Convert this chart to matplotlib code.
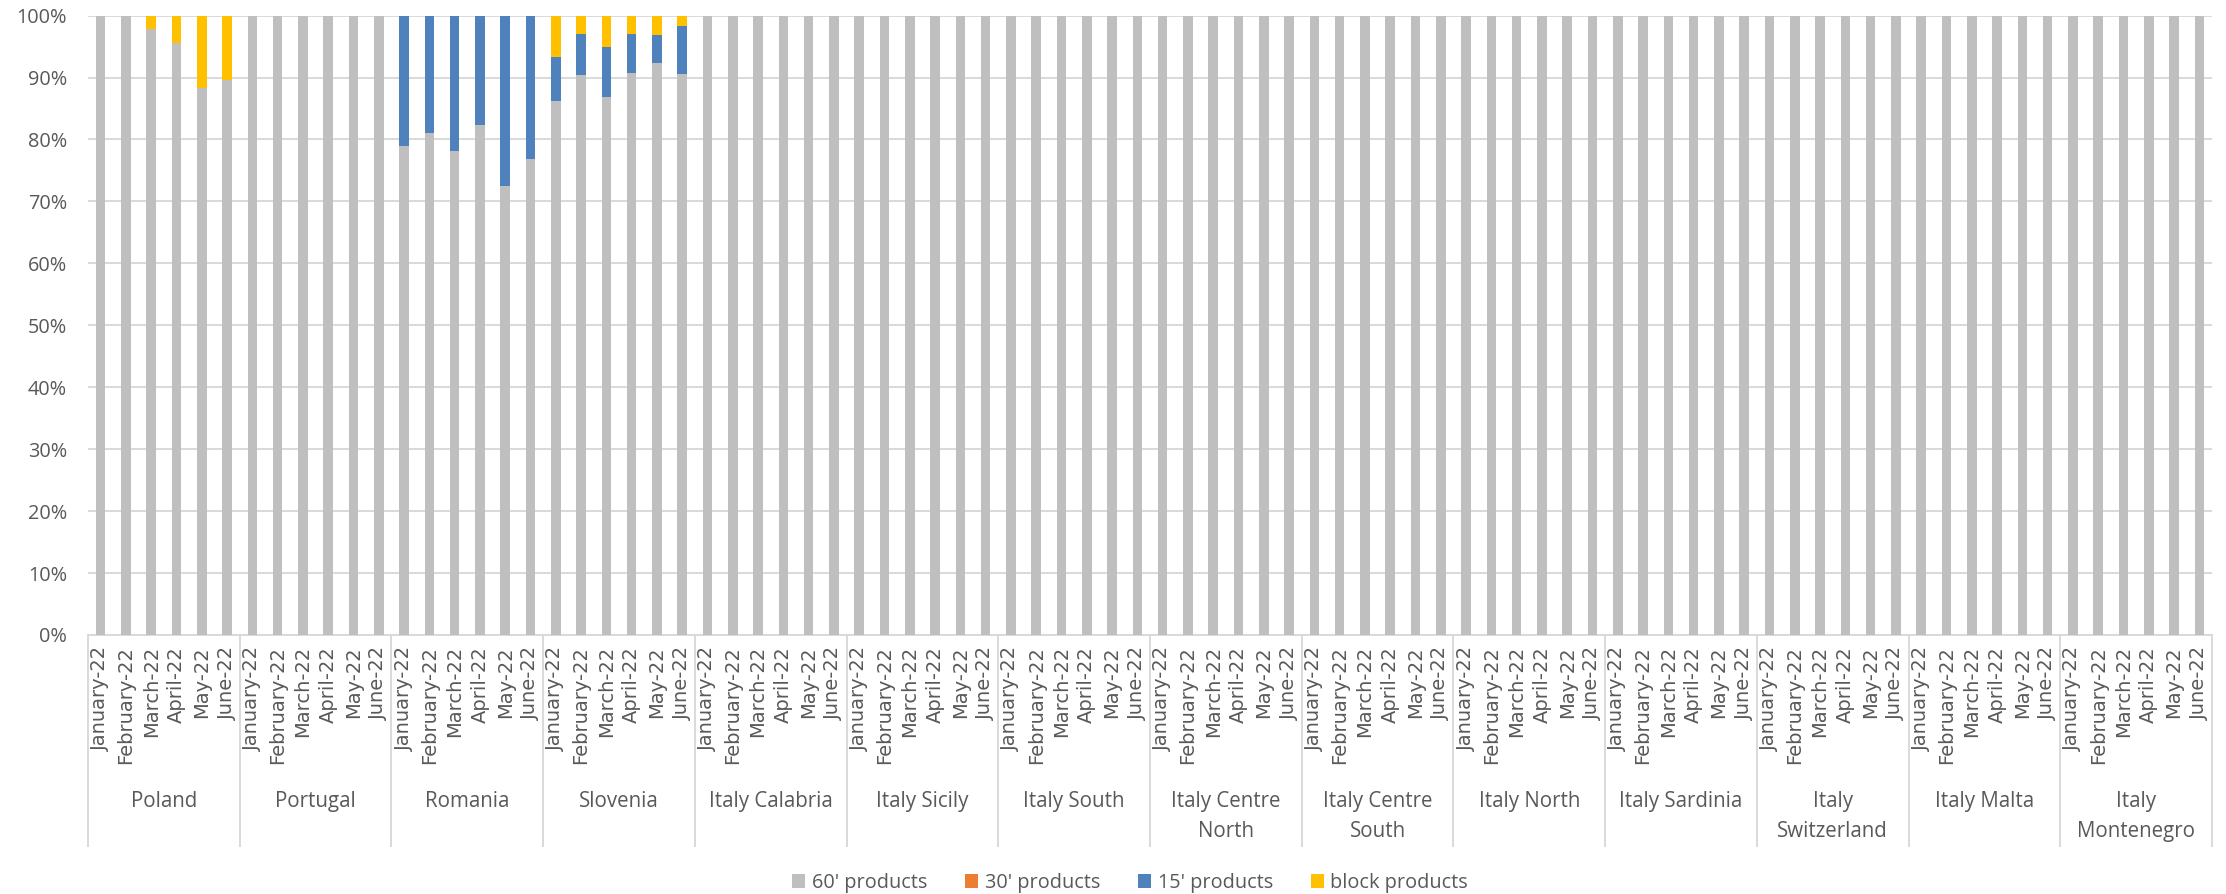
import matplotlib
matplotlib.use("Agg")
import matplotlib.pyplot as plt
from matplotlib.ticker import PercentFormatter, MultipleLocator
from matplotlib.patches import Patch
import numpy as np

# ---------------- data ----------------
groups = ["Poland", "Portugal", "Romania", "Slovenia", "Italy Calabria", "Italy Sicily",
          "Italy South", "Italy Centre\nNorth", "Italy Centre\nSouth", "Italy North",
          "Italy Sardinia", "Italy\nSwitzerland", "Italy Malta", "Italy\nMontenegro"]
months = ["January-22", "February-22", "March-22", "April-22", "May-22", "June-22"]
series_names = ["60' products", "30' products", "15' products", "block products"]

p60 = {
    "Poland":   [100, 100, 97.8, 95.5, 88.3, 89.6],
    "Romania":  [79.0, 81.1, 78.1, 82.3, 72.5, 76.9],
    "Slovenia": [86.2, 90.4, 86.9, 90.8, 92.3, 90.6],
}
p15 = {
    "Romania":  [21.0, 18.9, 21.9, 17.7, 27.5, 23.1],
    "Slovenia": [7.1, 6.7, 8.0, 6.3, 4.6, 7.8],
}
pblock = {
    "Poland":   [0, 0, 2.2, 4.5, 11.7, 10.4],
    "Slovenia": [6.7, 2.9, 5.1, 2.9, 3.1, 1.6],
}
p30 = {}

colors = ["#BFBFBF", "#ED7D31", "#4F81BD", "#FFC000"]
text_color = "#595959"
grid_color = "#D9D9D9"

# ---------------- build series ----------------
def series(d, default):
    out = []
    for g in groups:
        out.extend(d.get(g, [default] * len(months)))
    return np.array(out, dtype=float)

s60 = series(p60, 100.0)
s30 = series(p30, 0.0)
s15 = series(p15, 0.0)
sbl = series(pblock, 0.0)
stack = [s60, s30, s15, sbl]

n = len(groups) * len(months)
x = np.arange(n)

W, H = 2226, 894
fig = plt.figure(figsize=(W / 100, H / 100), dpi=100)
left, right, top, bottom = 88, 2212, 15.6, 635
ax = fig.add_axes([left / W, 1 - bottom / H, (right - left) / W, (bottom - top) / H])

base = np.zeros(n)
for vals, col in zip(stack, colors):
    ax.bar(x, vals, bottom=base, width=0.38, color=col, zorder=3, linewidth=0)
    base = base + vals

ax.set_xlim(-0.5, n - 0.5)
ax.set_ylim(0, 100)
ax.yaxis.set_major_locator(MultipleLocator(10))
ax.yaxis.set_major_formatter(PercentFormatter(100, decimals=0))
ax.grid(axis="y", color=grid_color, linewidth=1.4, zorder=0)
ax.set_axisbelow(True)
for sp in ["top", "right", "left"]:
    ax.spines[sp].set_visible(False)
ax.spines["bottom"].set_color(grid_color)
ax.spines["bottom"].set_linewidth(1.4)

ax.tick_params(axis="y", length=0, pad=15, labelcolor=text_color, labelsize=14.3)
for lab in ax.get_yticklabels():
    lab.set_fontfamily("Open Sans")

ax.set_xticks(x)
ax.set_xticklabels(months * len(groups), rotation=90, fontsize=14,
                   family="DejaVu Sans", color=text_color)
ax.tick_params(axis="x", length=0, pad=8)

# group separators and labels
ax_h = bottom - top
trans = ax.get_xaxis_transform()
sep_y = -(846 - bottom) / ax_h
for k in range(len(groups) + 1):
    xs = k * len(months) - 0.5
    ax.plot([xs, xs], [0, sep_y], transform=trans, color=grid_color,
            linewidth=1.4, clip_on=False, zorder=1)
for k, g in enumerate(groups):
    xc = k * len(months) + (len(months) - 1) / 2
    for i, line in enumerate(g.split("\n")):
        ypx = 802 + i * 30
        ax.text(xc, -(ypx - bottom) / ax_h, line, transform=trans, ha="center",
                va="center", fontsize=14.8, family="Open Sans", color=text_color)

handles = [Patch(facecolor=c, edgecolor="none") for c in colors]
leg = fig.legend(handles, series_names, loc="center", bbox_to_anchor=(1130 / W, 1 - 883 / H),
                 ncol=4, frameon=False, handlelength=0.65, handleheight=0.65,
                 handletextpad=0.35, columnspacing=1.9,
                 prop={"family": "Open Sans", "size": 14.3})
for t in leg.get_texts():
    t.set_color(text_color)

fig.savefig("out.png", dpi=100)
